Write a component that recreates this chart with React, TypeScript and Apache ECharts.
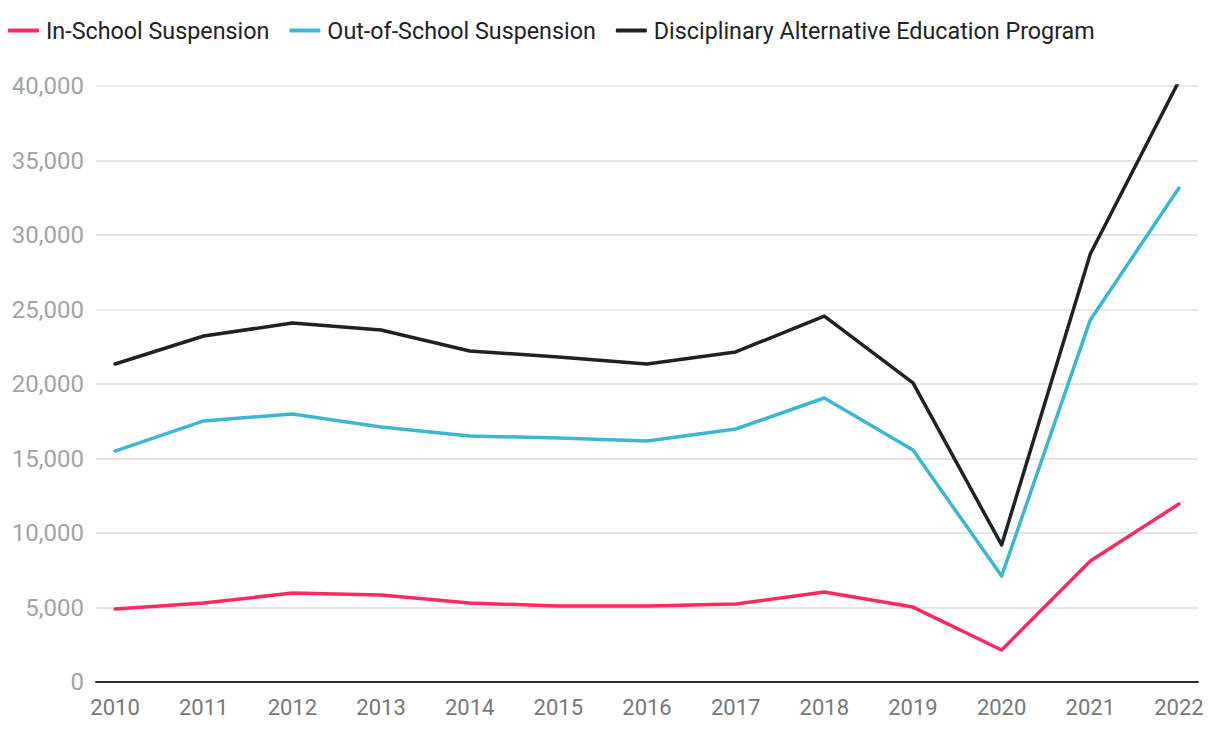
import React, { useEffect, useRef } from "react";
import * as echarts from "echarts";

const years = [2010, 2011, 2012, 2013, 2014, 2015, 2016, 2017, 2018, 2019, 2020, 2021, 2022];
const inSchool = [4900, 5300, 5970, 5840, 5300, 5100, 5100, 5230, 6040, 5030, 2150, 8120, 11950];
const outSchool = [15500, 17520, 17990, 17110, 16510, 16380, 16170, 16980, 19060, 15570, 7110, 24300, 33150];
const daep = [21340, 23220, 24090, 23620, 22220, 21810, 21340, 22150, 24560, 20070, 9200, 28720, 40330];
const seriesNames = ["In-School Suspension", "Out-of-School Suspension", "Disciplinary Alternative Education Program"];
const colors = ["#ff2a5f", "#3bb8d1", "#1d2226"];

const FONT = "Roboto, 'Noto Sans', sans-serif";

export default function App() {
  const ref = useRef<HTMLDivElement>(null);
  useEffect(() => {
    if (!ref.current) return;
    const chart = echarts.init(ref.current, undefined, { renderer: "svg" });
    const all = [inSchool, outSchool, daep];
    chart.setOption({
      animation: false,
      textStyle: { fontFamily: FONT },
      legend: {
        left: 0,
        top: 11,
        padding: 0,
        itemWidth: 31,
        itemHeight: 4,
        itemGap: 20,
        icon: "roundRect",
        textStyle: { fontSize: 23.3, color: "#222", fontFamily: FONT, padding: [0, 0, 0, 2] },
        data: seriesNames,
      },
      grid: { left: 88, right: 14, top: 78, bottom: 46 },
      xAxis: {
        type: "value",
        min: 2009.785,
        max: 2022.215,
        axisLine: { show: true, lineStyle: { color: "#2b2b2b", width: 2 } },
        axisTick: { show: false },
        splitLine: { show: false },
        axisLabel: {
          color: "#777",
          fontSize: 22,
          margin: 14,
          fontFamily: FONT,
          customValues: years,
          formatter: (v: number) => String(Math.round(v)),
        },
      },
      yAxis: {
        type: "value",
        min: 0,
        max: 40000,
        interval: 5000,
        axisLine: { show: false },
        axisTick: { show: false },
        splitLine: { lineStyle: { color: "#e5e5e5", width: 2 } },
        axisLabel: {
          color: "#a3a3a3",
          fontSize: 24,
          margin: 12,
          fontFamily: FONT,
          formatter: (v: number) => v.toLocaleString("en-US"),
        },
      },
      series: all.map((arr, i) => ({
        name: seriesNames[i],
        type: "line",
        symbol: "none",
        z: 3 - i,
        lineStyle: { width: 3.5, color: colors[i], cap: "round", join: "round" },
        itemStyle: { color: colors[i] },
        data: arr.map((v, j) => [years[j], v]),
      })),
    });
    return () => chart.dispose();
  }, []);
  return <div ref={ref} style={{ width: 1204, height: 720 }} />;
}
